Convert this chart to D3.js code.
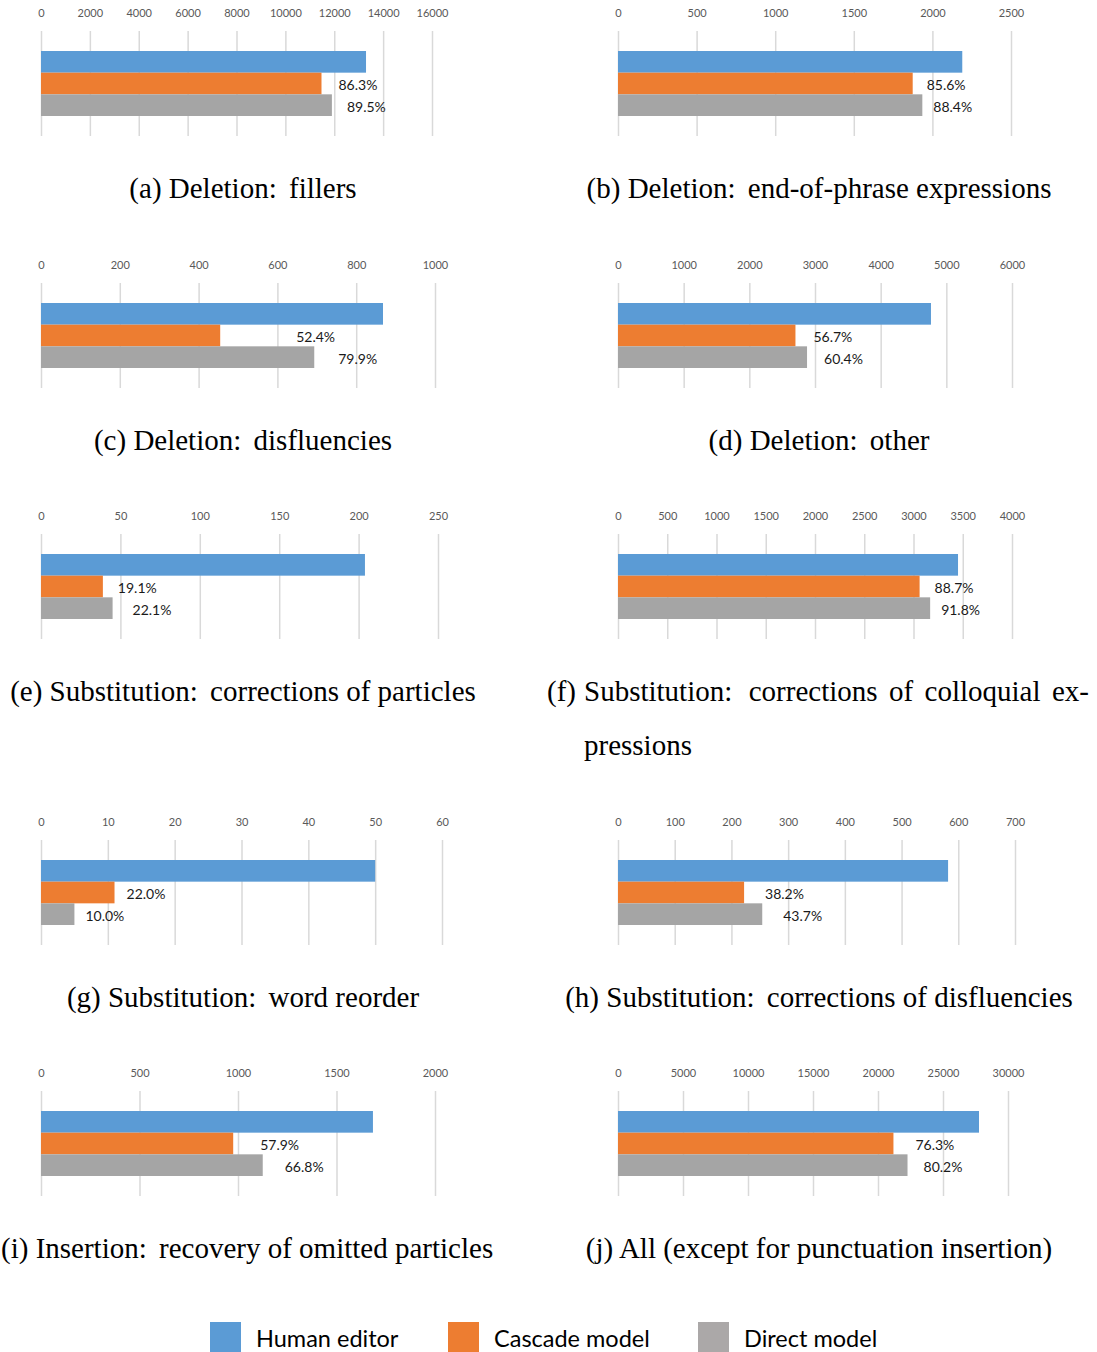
<!DOCTYPE html>
<html>
<head>
<meta charset="utf-8">
<script src="https://cdn.jsdelivr.net/npm/d3@7"></script>
<style>
  html, body { margin: 0; padding: 0; background: #fff; overflow: hidden; }
  svg { display: block; }
</style>
</head>
<body>
<svg id="chart" width="1097" height="1352"></svg>
<script>
// ---- data -------------------------------------------------------------
const panelIds = ["a", "b", "c", "d", "e", "f", "g", "h", "i", "j"];
const captions = [
  "Deletion: fillers",
  "Deletion: end-of-phrase expressions",
  "Deletion: disfluencies",
  "Deletion: other",
  "Substitution: corrections of particles",
  ["Substitution: corrections of colloquial ex-", "pressions"],
  "Substitution: word reorder",
  "Substitution: corrections of disfluencies",
  "Insertion: recovery of omitted particles",
  "All (except for punctuation insertion)"
];
const seriesNames = ["Human editor", "Cascade model", "Direct model"];
// number of edits made by the human editor, per edit type
const humanCounts = [13300, 2190, 868, 4766, 204, 3452, 50, 582, 1685, 27769];
// share of the human edits reproduced by each model (%)
const cascadeRates = [86.3, 85.6, 52.4, 56.7, 19.1, 88.7, 22.0, 38.2, 57.9, 76.3];
const directRates  = [89.5, 88.4, 79.9, 60.4, 22.1, 91.8, 10.0, 43.7, 66.8, 80.2];
// value axes
const axisMax  = [16000, 2500, 1000, 6000, 250, 4000, 60, 700, 2000, 30000];
const tickStep = [2000, 500, 200, 1000, 50, 500, 10, 100, 500, 5000];

// ---- layout & style -------------------------------------------------------
const colors = ["#5B9BD5", "#ED7D31", "#A5A5A5"];
const legendColors = ["#5B9BD5", "#ED7D31", "#ABA8A8"];
const colX0 = [41, 618];
const captionCx = [243, 819];
const rowTop = [13, 265, 516, 822, 1073];
const plotWidths = [391, 393, 394, 394, 397, 394, 401, 397, 394, 390];
// gap between a bar end and its percentage label, [cascade, direct]
const labelGap = [[17, 15], [14, 11], [76, 24], [18, 17], [15, 20],
                  [15, 11], [12, 11], [21, 21], [27, 22], [22, 16]];
const sansFont = "Lato, 'Open Sans', sans-serif";
const serifFont = "'Liberation Serif', 'Times New Roman', serif";
const capSize = "29px";
const colonGap = 5;

const svg = d3.select("#chart");

panelIds.forEach((id, i) => {
  const col = i % 2, row = Math.floor(i / 2);
  const top = rowTop[row];
  const x0 = colX0[col];
  const g = svg.append("g").attr("class", "panel panel-" + id);

  const x = d3.scaleLinear().domain([0, axisMax[i]]).range([x0, x0 + plotWidths[i]]);
  const ticks = d3.range(0, axisMax[i] + tickStep[i] / 2, tickStep[i]);
  const y = d3.scaleBand().domain(seriesNames).range([top + 38, top + 103]).padding(0);

  const gridTop = top + 18, gridBottom = top + 123;

  // vertical gridlines
  const grid = g.append("g")
    .attr("transform", `translate(0,${gridTop})`)
    .call(d3.axisBottom(x).tickValues(ticks).tickSize(gridBottom - gridTop).tickFormat(""));
  grid.select(".domain").remove();
  grid.selectAll(".tick line").attr("stroke", "#D9D9D9").attr("stroke-width", 1.5);

  // tick labels along the top
  const axis = g.append("g")
    .attr("transform", `translate(0,${top})`)
    .call(d3.axisTop(x).tickValues(ticks).tickSize(0).tickPadding(0).tickFormat(d3.format("d")));
  axis.select(".domain").remove();
  axis.selectAll(".tick text")
    .attr("dy", "0.35em")
    .attr("fill", "#595959")
    .style("font-family", sansFont)
    .style("font-size", "11px");

  const human = humanCounts[i];
  const rates = [100, cascadeRates[i], directRates[i]];
  const bars = seriesNames.map((s, k) => ({ series: s, k, rate: rates[k], value: human * rates[k] / 100 }));

  g.selectAll("rect.bar").data(bars).join("rect")
    .attr("class", "bar")
    .attr("x", x(0))
    .attr("y", d => y(d.series))
    .attr("width", d => x(d.value) - x(0))
    .attr("height", y.bandwidth())
    .attr("fill", d => colors[d.k]);

  g.selectAll("text.pct").data(bars.filter(d => d.k > 0)).join("text")
    .attr("class", "pct")
    .attr("x", d => x(d.value) + labelGap[i][d.k - 1])
    .attr("y", d => y(d.series) + y.bandwidth() / 2 + 1)
    .attr("dominant-baseline", "central")
    .attr("fill", "#1A1A1A")
    .style("font-family", sansFont)
    .style("font-size", "14px")
    .text(d => d.rate.toFixed(1) + "%");

  // caption under the chart
  const capY = top + 185;
  const cap = captions[i];
  const label = "(" + id + ")";
  const writeLine = (sel, str) => {
    const c = str.indexOf(": ");
    if (c >= 0) {
      sel.append("tspan").text(str.slice(0, c + 1));
      sel.append("tspan").attr("dx", colonGap).text(" " + str.slice(c + 2));
    } else {
      sel.append("tspan").text(str);
    }
  };
  if (Array.isArray(cap)) {
    // label box on the left, justified body with a hanging indent
    const labelLeft = 547, bodyLeft = 584, bodyRight = 1089;
    g.append("text")
      .attr("x", labelLeft).attr("y", capY)
      .style("font-family", serifFont).style("font-size", capSize)
      .attr("fill", "#000")
      .text(label);
    const t1 = g.append("text")
      .attr("x", bodyLeft).attr("y", capY)
      .style("font-family", serifFont).style("font-size", capSize)
      .attr("fill", "#000");
    writeLine(t1, cap[0]);
    const natural = t1.node().getBBox().width;
    const spaces = cap[0].split(" ").length - 1;
    t1.style("word-spacing", ((bodyRight - bodyLeft - natural) / spaces) + "px");
    g.append("text")
      .attr("x", bodyLeft).attr("y", capY + 54)
      .style("font-family", serifFont).style("font-size", capSize)
      .attr("fill", "#000")
      .text(cap[1]);
  } else {
    const t = g.append("text")
      .attr("x", captionCx[col]).attr("y", capY)
      .attr("text-anchor", "middle")
      .style("font-family", serifFont).style("font-size", capSize)
      .attr("fill", "#000");
    t.append("tspan").text(label + " ");
    writeLine(t, cap);
    // keep the caption inside the page
    const bb = t.node().getBBox();
    if (bb.x < 1) t.attr("x", captionCx[col] + (1 - bb.x));
  }
});

// ---- legend -----------------------------------------------------------
const legendX = [210, 448, 698];
const legend = svg.append("g").attr("class", "legend");
const items = legend.selectAll("g").data(seriesNames).join("g")
  .attr("transform", (d, k) => `translate(${legendX[k]},1322)`);
items.append("rect")
  .attr("width", 31).attr("height", 34)
  .attr("fill", (d, k) => legendColors[k]);
items.append("text")
  .attr("x", 46).attr("y", 16)
  .attr("dominant-baseline", "central")
  .attr("fill", "#000")
  .style("font-family", sansFont)
  .style("font-size", "23.5px")
  .text(d => d);
</script>
</body>
</html>
